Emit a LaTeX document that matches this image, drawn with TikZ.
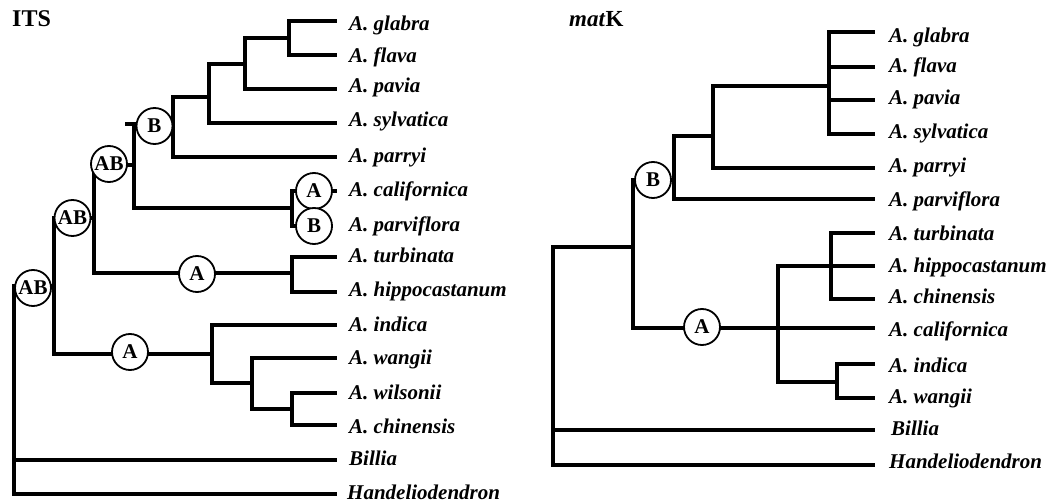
\documentclass[tikz,border=0pt]{standalone}
\usepackage{fontspec}
\setmainfont{Liberation Serif}
\begin{document}
\begin{tikzpicture}[x=1pt,y=-1pt,
  br/.style={line width=3.2pt,line cap=rect,line join=miter},
  evt/.style={circle,draw,fill=white,line width=1.8pt,minimum size=36pt,inner sep=0pt,
    font=\bfseries\fontsize{21}{21}\selectfont},
  lab/.style={anchor=base west,inner sep=0pt,font=\bfseries\itshape\fontsize{21}{24}\selectfont},
  ttl/.style={anchor=base west,inner sep=0pt,font=\bfseries\fontsize{24}{28}\selectfont}]
\useasboundingbox (0,0) rectangle (1049,502);
% ---------------- ITS ----------------
\node[ttl] (tITS) at (12,27) {ITS};
\foreach \n/\y in {gla/21,fla/55,pav/89,syl/123,par/157,cal/191,tur/257,hip/292,ind/325,wan/358,wil/393,chi/425,bil/460,han/494}
  \coordinate (I-\n) at (335,\y);
\coordinate (I-pvf) at (331,226);
\coordinate (n1) at (289,38);
\coordinate (n2) at (245,64);
\coordinate (n3) at (209,97);
\coordinate (n4) at (173,124);
\coordinate (n5) at (134,165);
\coordinate (n6) at (292,208);
\coordinate (n7) at (94,218);
\coordinate (n8) at (292,273);
\coordinate (n9) at (54,286);
\coordinate (n10) at (212,354);
\coordinate (n11) at (252,383);
\coordinate (n12) at (292,409);
\coordinate (r) at (14,460);
\coordinate (tick) at (127,124);
\draw[br] (I-gla) -| (n1) |- (I-fla);
\draw[br] (n1) -| (n2) |- (I-pav);
\draw[br] (n2) -| (n3) |- (I-syl);
\draw[br] (n3) -| (n4) |- (I-par);
\draw[br] (n4) -| (n5) |- (n6);
\draw[br] (tick) -- (n4 -| n5);
\draw[br] (I-cal) -| (n6) |- (I-pvf);
\draw[br] (n5) -| (n7) |- (n8);
\draw[br] (I-tur) -| (n8) |- (I-hip);
\draw[br] (I-wil) -| (n12) |- (I-chi);
\draw[br] (I-wan) -| (n11) |- (n12);
\draw[br] (I-ind) -| (n10) |- (n11);
\draw[br] (n7) -| (n9) |- (n10);
\draw[br] (n9) -| (r) |- (I-han);
\draw[br] (r) -- (I-bil);
\node[evt] (eB1) at (154.5,126) {B};
\node[evt] (eAB1) at (109,164) {AB};
\node[evt] (eAB2) at (72.5,218) {AB};
\node[evt] (eAB3) at (33,288) {AB};
\node[evt] (eA1) at (197,274) {A};
\node[evt] (eA2) at (130,352) {A};
\node[evt] (eA3) at (314,191) {A};
\node[evt] (eB2) at (314,226) {B};
\node[lab] (l1) at (349,31) {A. glabra};
\node[lab] (l2) at (349,63) {A. flava};
\node[lab] (l3) at (349,93) {A. pavia};
\node[lab] (l4) at (349,127) {A. sylvatica};
\node[lab] (l5) at (349,163) {A. parryi};
\node[lab] (l6) at (349,197) {A. californica};
\node[lab] (l7) at (349,232) {A. parviflora};
\node[lab] (l8) at (349,263) {A. turbinata};
\node[lab] (l9) at (349,297) {A. hippocastanum};
\node[lab] (l10) at (349,332) {A. indica};
\node[lab] (l11) at (349,364) {A. wangii};
\node[lab] (l12) at (349,399) {A. wilsonii};
\node[lab] (l13) at (349,433) {A. chinensis};
\node[lab] (l14) at (349,465) {Billia};
\node[lab] (l15) at (347,499) {Handeliodendron};
% ---------------- matK ----------------
\node[ttl,font=\bfseries\fontsize{23}{28}\selectfont] (tmatK) at (569,27) {\textit{mat}K};
\foreach \n/\y in {gla/32,fla/67,pav/100,syl/134,par/168,pvf/199,tur/233,hip/266,chi/299,cal/328,ind/364,wan/398,bil/430,han/465}
  \coordinate (M-\n) at (873,\y);
\coordinate (m1) at (829,86);
\coordinate (m2) at (713,136);
\coordinate (m3) at (674,180);
\coordinate (m4) at (633,247);
\coordinate (m5) at (778,328);
\coordinate (m6) at (831,266);
\coordinate (m7) at (837,382);
\coordinate (mr) at (553,430);
\draw[br] (M-gla) -| (m1) |- (M-syl);
\draw[br] (M-fla) -- (M-fla -| m1);
\draw[br] (M-pav) -- (M-pav -| m1);
\draw[br] (m1) -| (m2) |- (M-par);
\draw[br] (m2) -| (m3) |- (M-pvf);
\draw[br] (M-tur) -| (m6) |- (M-chi);
\draw[br] (M-ind) -| (m7) |- (M-wan);
\draw[br] (M-hip) -| (m5) |- (m7);
\draw[br] (m3) -| (m4) |- (M-cal);
\draw[br] (m4) -| (mr) |- (M-han);
\draw[br] (mr) -- (M-bil);
\node[evt] (eB3) at (653,180) {B};
\node[evt] (eA4) at (702,327) {A};
\node[lab] (k1) at (889,43) {A. glabra};
\node[lab] (k2) at (889,73) {A. flava};
\node[lab] (k3) at (889,105) {A. pavia};
\node[lab] (k4) at (889,139) {A. sylvatica};
\node[lab] (k5) at (889,173) {A. parryi};
\node[lab] (k6) at (889,207) {A. parviflora};
\node[lab] (k7) at (889,241) {A. turbinata};
\node[lab] (k8) at (889,273) {A. hippocastanum};
\node[lab] (k9) at (889,304) {A. chinensis};
\node[lab] (k10) at (889,337) {A. californica};
\node[lab] (k11) at (889,372) {A. indica};
\node[lab] (k12) at (889,403) {A. wangii};
\node[lab] (k13) at (891,435) {Billia};
\node[lab] (k14) at (889,468) {Handeliodendron};
\end{tikzpicture}
\end{document}
